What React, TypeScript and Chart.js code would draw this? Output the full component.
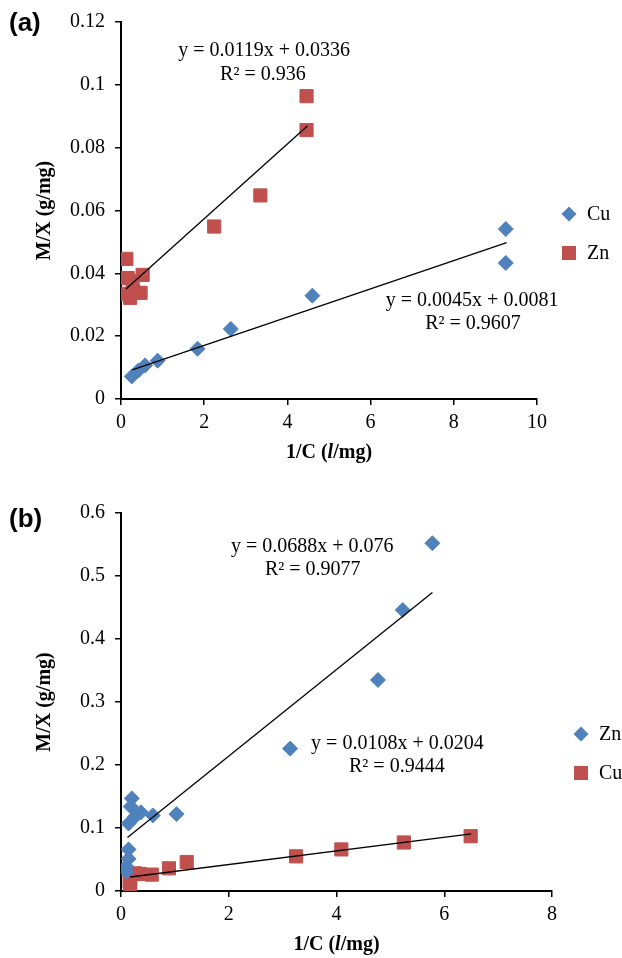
import React, { useEffect, useRef } from 'react';
import { Chart, registerables } from 'chart.js';
Chart.register(...registerables);

const BLUE = '#4F81BD';
const RED = '#C0504D';

// ---- Panel (a) ----
const aCuX = [0.26, 0.42, 0.58, 0.88, 1.84, 2.64, 4.6, 9.25, 9.25];
const aCuY = [0.0072, 0.0091, 0.0107, 0.0122, 0.016, 0.0223, 0.0329, 0.0541, 0.0433];
const aZnX = [0.13, 0.16, 0.28, 0.52, 0.47, 0.12, 0.22, 0.3, 2.24, 3.35, 4.46, 4.46];
const aZnY = [0.0446, 0.0385, 0.0375, 0.0395, 0.0338, 0.0335, 0.0322, 0.034, 0.0549, 0.0648, 0.0856, 0.0964];
const aCuTrendX = [0.27, 9.27];
const aCuTrendY = [0.0093, 0.0498];
const aZnTrendX = [0.12, 4.48];
const aZnTrendY = [0.035, 0.0869];

// ---- Panel (b) ----
const bZnX = [5.78, 5.23, 4.77, 3.14, 1.03, 0.59, 0.37, 0.26, 0.2, 0.18, 0.14, 0.14, 0.14, 0.1, 0.1];
const bZnY = [0.552, 0.446, 0.335, 0.226, 0.122, 0.12, 0.125, 0.118, 0.147, 0.134, 0.107, 0.066, 0.051, 0.039, 0.031];
const bCuX = [6.49, 5.25, 4.09, 3.25, 1.22, 0.89, 0.57, 0.35, 0.26, 0.17, 0.17, 0.16];
const bCuY = [0.087, 0.077, 0.066, 0.055, 0.046, 0.036, 0.026, 0.027, 0.028, 0.02, 0.009, 0.015];
const bZnTrendX = [0.12, 5.78];
const bZnTrendY = [0.0848, 0.4737];
const bCuTrendX = [0.17, 6.5];
const bCuTrendY = [0.0222, 0.0906];

const zip = (xs: number[], ys: number[]) => xs.map((x, i) => ({ x, y: ys[i] }));

type Eq = { text: string; x: number; y: number };
type LegendItem = { label: string; color: string; style: 'rectRot' | 'rect' };

interface PanelCfg {
  panel: string;
  width: number;
  height: number;
  top: number;
  padding: { left: number; right: number; top: number; bottom: number };
  xMax: number;
  xStep: number;
  yMax: number;
  yStep: number;
  datasets: any[];
  eqs: Eq[];
  legend: LegendItem[];
  legendX: number;
  legendY: number;
  legendGap: number;
}

const SERIF = '"Liberation Serif", "Times New Roman", serif';
const SANS = '"Liberation Sans", Arial, sans-serif';

const scatter = (label: string, data: any[], color: string, style: string, radius: number) => ({
  type: 'scatter',
  label,
  data,
  pointStyle: style,
  pointRadius: radius,
  pointHoverRadius: radius,
  backgroundColor: color,
  borderColor: color,
  borderWidth: 1,
  order: 2,
});

const trend = (data: any[]) => ({
  type: 'line',
  label: 'trend',
  data,
  borderColor: '#000',
  borderWidth: 1.3,
  pointRadius: 0,
  showLine: true,
  fill: false,
  order: 1,
});

const cfgA: PanelCfg = {
  panel: '(a)',
  width: 622,
  height: 470,
  top: 0,
  padding: { left: 0, right: 85, top: 21, bottom: 26 },
  xMax: 10,
  xStep: 2,
  yMax: 0.12,
  yStep: 0.02,
  datasets: [
    trend(zip(aCuTrendX, aCuTrendY)),
    trend(zip(aZnTrendX, aZnTrendY)),
    scatter('Cu', zip(aCuX, aCuY), BLUE, 'rectRot', 7.5),
    scatter('Zn', zip(aZnX, aZnY), RED, 'rect', 9.3),
  ],
  eqs: [
    { text: 'y = 0.0119x + 0.0336', x: 3.44, y: 0.1107 },
    { text: 'R² = 0.936', x: 3.41, y: 0.1031 },
    { text: 'y = 0.0045x + 0.0081', x: 8.44, y: 0.0313 },
    { text: 'R² = 0.9607', x: 8.46, y: 0.024 },
  ],
  legend: [
    { label: 'Cu', color: BLUE, style: 'rectRot' },
    { label: 'Zn', color: RED, style: 'rect' },
  ],
  legendX: 569,
  legendY: 214,
  legendGap: 39,
};

const cfgB: PanelCfg = {
  panel: '(b)',
  width: 622,
  height: 478,
  top: 480,
  padding: { left: 0, right: 70, top: 33, bottom: 22 },
  xMax: 8,
  xStep: 2,
  yMax: 0.6,
  yStep: 0.1,
  datasets: [
    trend(zip(bZnTrendX, bZnTrendY)),
    trend(zip(bCuTrendX, bCuTrendY)),
    scatter('Zn', zip(bZnX, bZnY), BLUE, 'rectRot', 7.5),
    scatter('Cu', zip(bCuX, bCuY), RED, 'rect', 9.3),
  ],
  eqs: [
    { text: 'y = 0.0688x + 0.076', x: 3.55, y: 0.547 },
    { text: 'R² = 0.9077', x: 3.56, y: 0.51 },
    { text: 'y = 0.0108x + 0.0204', x: 5.13, y: 0.233 },
    { text: 'R² = 0.9444', x: 5.12, y: 0.197 },
  ],
  legend: [
    { label: 'Zn', color: BLUE, style: 'rectRot' },
    { label: 'Cu', color: RED, style: 'rect' },
  ],
  legendX: 581,
  legendY: 254,
  legendGap: 39,
};

function buildChart(canvas: HTMLCanvasElement, cfg: PanelCfg) {
  const overlay = {
    id: 'overlay',
    afterDraw(chart: any) {
      const ctx = chart.ctx as CanvasRenderingContext2D;
      const xs = chart.scales.x;
      const ys = chart.scales.y;
      const ca = chart.chartArea;
      ctx.save();
      ctx.fillStyle = '#000';
      // panel label
      ctx.font = `bold 26px ${SANS}`;
      ctx.textAlign = 'left';
      ctx.textBaseline = 'middle';
      ctx.fillText(cfg.panel, 9, cfg.top === 0 ? 24 : 40);
      // equations
      ctx.font = `20px ${SERIF}`;
      ctx.textAlign = 'center';
      for (const e of cfg.eqs) {
        ctx.fillText(e.text, xs.getPixelForValue(e.x), ys.getPixelForValue(e.y));
      }
      // legend
      cfg.legend.forEach((item, i) => {
        const cy = cfg.legendY + i * cfg.legendGap;
        const cx = cfg.legendX;
        ctx.fillStyle = item.color;
        ctx.beginPath();
        if (item.style === 'rectRot') {
          ctx.moveTo(cx, cy - 7.5);
          ctx.lineTo(cx + 7.5, cy);
          ctx.lineTo(cx, cy + 7.5);
          ctx.lineTo(cx - 7.5, cy);
          ctx.closePath();
        } else {
          ctx.rect(cx - 7, cy - 7, 14, 14);
        }
        ctx.fill();
        ctx.fillStyle = '#000';
        ctx.font = `20px ${SERIF}`;
        ctx.textAlign = 'left';
        ctx.fillText(item.label, cx + 18, cy + 1);
      });
      // x title with italic l
      const parts = [
        { t: '1/C (', f: `bold 20px ${SERIF}` },
        { t: 'l', f: `italic bold 20px ${SERIF}` },
        { t: '/mg)', f: `bold 20px ${SERIF}` },
      ];
      let total = 0;
      for (const p of parts) {
        ctx.font = p.f;
        total += ctx.measureText(p.t).width;
      }
      let x = (ca.left + ca.right) / 2 - total / 2;
      const y = ca.bottom + 54;
      ctx.textAlign = 'left';
      for (const p of parts) {
        ctx.font = p.f;
        ctx.fillText(p.t, x, y);
        x += ctx.measureText(p.t).width;
      }
      // y title
      ctx.translate(45, (ca.top + ca.bottom) / 2);
      ctx.rotate(-Math.PI / 2);
      ctx.font = `bold 20px ${SERIF}`;
      ctx.textAlign = 'center';
      ctx.fillText('M/X (g/mg)', 0, 0);
      ctx.restore();
    },
  };

  const tickFont = { family: SERIF, size: 20 };
  return new Chart(canvas, {
    type: 'scatter',
    data: { datasets: cfg.datasets },
    options: {
      responsive: false,
      animation: false,
      devicePixelRatio: 1,
      layout: { padding: cfg.padding },
      plugins: { legend: { display: false }, tooltip: { enabled: false } },
      scales: {
        x: {
          type: 'linear',
          min: 0,
          max: cfg.xMax,
          ticks: { stepSize: cfg.xStep, color: '#000', font: tickFont, padding: 6, maxRotation: 0 },
          grid: { display: true, drawOnChartArea: false, drawTicks: true, tickLength: 6, color: '#000', lineWidth: 1.5 },
          border: { display: true, color: '#000', width: 2 },
          afterFit: (s: any) => { s.height = 45; },
        },
        y: {
          type: 'linear',
          min: 0,
          max: cfg.yMax,
          ticks: {
            stepSize: cfg.yStep,
            color: '#000',
            font: tickFont,
            padding: 10,
            callback: (v: any) => String(+Number(v).toFixed(2)),
          },
          grid: { display: true, drawOnChartArea: false, drawTicks: true, tickLength: 6, color: '#000', lineWidth: 1.5 },
          border: { display: true, color: '#000', width: 2 },
          afterFit: (s: any) => { s.width = 121; },
        },
      },
    } as any,
    plugins: [overlay],
  });
}

function Panel({ cfg }: { cfg: PanelCfg }) {
  const ref = useRef<HTMLCanvasElement | null>(null);
  useEffect(() => {
    if (!ref.current) return;
    const chart = buildChart(ref.current, cfg);
    return () => chart.destroy();
  }, [cfg]);
  return (
    <canvas
      ref={ref}
      width={cfg.width}
      height={cfg.height}
      style={{ position: 'absolute', left: 0, top: cfg.top, width: cfg.width, height: cfg.height }}
    />
  );
}

export default function App() {
  return (
    <div style={{ position: 'absolute', left: 0, top: 0, width: 622, height: 958, background: '#fff', overflow: 'hidden' }}>
      <Panel cfg={cfgA} />
      <Panel cfg={cfgB} />
    </div>
  );
}
